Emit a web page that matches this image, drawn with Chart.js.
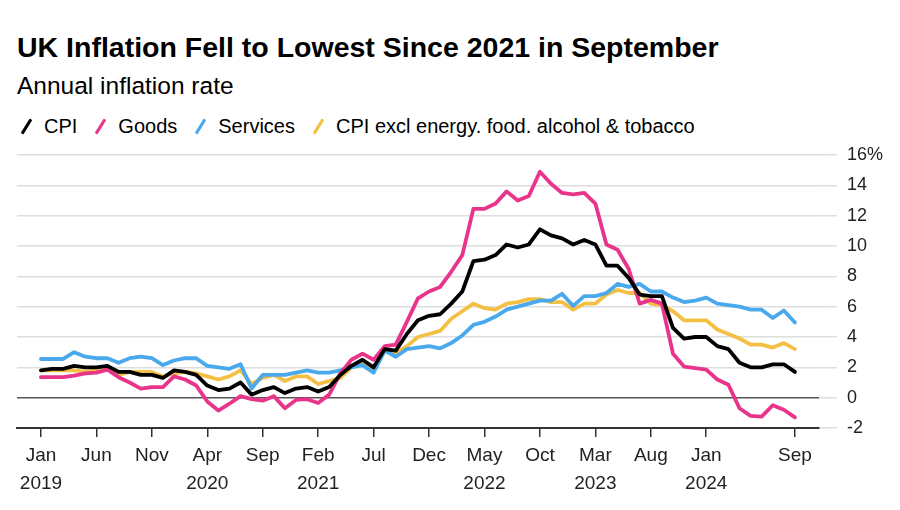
<!DOCTYPE html>
<html>
<head>
<meta charset="utf-8">
<script src="https://cdn.jsdelivr.net/npm/chart.js@4"></script>
<style>
  body { margin: 0; background: #fff; font-family: 'Liberation Sans', Arial, sans-serif; color: #000; }
  #wrap { position: relative; width: 900px; height: 510px; overflow: hidden; }
  #title { position: absolute; left: 17px; top: 33px; font-size: 28.5px; font-weight: bold; line-height: 1; white-space: nowrap; }
  #sub { position: absolute; left: 17px; top: 74px; font-size: 24.5px; line-height: 1; white-space: nowrap; }
  #legend { position: absolute; left: 17px; top: 116px; font-size: 20px; line-height: 1; display: flex; white-space: nowrap; }
  #legend .item { display: flex; align-items: center; margin-right: 14px; }
  #legend .mark { display: inline-block; width: 3px; height: 17px; margin: 0 16px 0 8px; transform: rotate(32deg); border-radius: 1px; }
  canvas { position: absolute; left: 0; top: 0; }
</style>
</head>
<body>
<div id="wrap">
  <div id="title">UK Inflation Fell to Lowest Since 2021 in September</div>
  <div id="sub">Annual inflation rate</div>
  <div id="legend"></div>
  <canvas id="chart" width="900" height="510"></canvas>
</div>
<script>
// Monthly, Jan 2019 .. Sep 2024 (69 months)
const cpi = [1.8, 1.9, 1.9, 2.1, 2.0, 2.0, 2.1, 1.7, 1.7, 1.5, 1.5, 1.3,
  1.8, 1.7, 1.5, 0.8, 0.5, 0.6, 1.0, 0.2, 0.5, 0.7, 0.3, 0.6,
  0.7, 0.4, 0.7, 1.5, 2.1, 2.5, 2.0, 3.2, 3.1, 4.2, 5.1, 5.4,
  5.5, 6.2, 7.0, 9.0, 9.1, 9.4, 10.1, 9.9, 10.1, 11.1, 10.7, 10.5,
  10.1, 10.4, 10.1, 8.7, 8.7, 7.9, 6.8, 6.7, 6.7, 4.6, 3.9, 4.0,
  4.0, 3.4, 3.2, 2.3, 2.0, 2.0, 2.2, 2.2, 1.7];

const goods = [1.35, 1.35, 1.35, 1.45, 1.6, 1.65, 1.85, 1.35, 1.0, 0.6, 0.7, 0.7,
  1.4, 1.2, 0.8, -0.25, -0.85, -0.4, 0.1, -0.1, -0.2, 0.1, -0.7, -0.15,
  -0.1, -0.35, 0.2, 1.6, 2.5, 2.9, 2.5, 3.4, 3.5, 5.0, 6.55, 7.0,
  7.3, 8.3, 9.4, 12.45, 12.45, 12.8, 13.6, 13.0, 13.3, 14.9, 14.1, 13.5,
  13.4, 13.5, 12.8, 10.1, 9.75, 8.5, 6.2, 6.45, 6.2, 2.9, 2.05, 1.95,
  1.85, 1.2, 0.85, -0.7, -1.2, -1.25, -0.5, -0.8, -1.3];

const services = [2.55, 2.55, 2.55, 3.0, 2.7, 2.6, 2.6, 2.3, 2.6, 2.7, 2.6, 2.15,
  2.45, 2.6, 2.6, 2.1, 2.0, 1.9, 2.2, 0.6, 1.5, 1.5, 1.5, 1.65,
  1.8, 1.65, 1.65, 1.8, 2.0, 2.15, 1.65, 3.1, 2.7, 3.2, 3.3, 3.4,
  3.25, 3.6, 4.1, 4.8, 5.0, 5.35, 5.8, 6.0, 6.2, 6.4, 6.4, 6.85,
  6.05, 6.7, 6.7, 6.9, 7.5, 7.3, 7.5, 7.0, 7.0, 6.6, 6.3, 6.4,
  6.6, 6.2, 6.1, 6.0, 5.8, 5.8, 5.25, 5.75, 4.95];

const core = [1.8, 1.8, 1.8, 1.8, 1.7, 1.8, 1.9, 1.5, 1.7, 1.7, 1.7, 1.4,
  1.6, 1.7, 1.6, 1.4, 1.2, 1.4, 1.8, 0.9, 1.3, 1.5, 1.1, 1.4,
  1.4, 0.9, 1.1, 1.3, 2.0, 2.3, 1.8, 3.1, 2.9, 3.4, 4.0, 4.2,
  4.4, 5.2, 5.7, 6.2, 5.9, 5.8, 6.2, 6.3, 6.5, 6.5, 6.3, 6.3,
  5.8, 6.2, 6.2, 6.8, 7.1, 6.9, 6.9, 6.2, 6.1, 5.7, 5.1, 5.1,
  5.1, 4.5, 4.2, 3.9, 3.5, 3.5, 3.3, 3.6, 3.2];

// x-axis ticks (month index from Jan 2019)
const tickPos = [0, 5, 10, 15, 20, 25, 30, 35, 40, 45, 50, 55, 60, 68];
const tickMonths = ['Jan', 'Jun', 'Nov', 'Apr', 'Sep', 'Feb', 'Jul', 'Dec', 'May', 'Oct', 'Mar', 'Aug', 'Jan', 'Sep'];
const tickYears = ['2019', '', '', '2020', '', '2021', '', '', '2022', '', '2023', '', '2024', ''];

const series = [
  { label: 'CPI', data: cpi, color: '#000000' },
  { label: 'Goods', data: goods, color: '#e8358b' },
  { label: 'Services', data: services, color: '#4aa8ec' },
  { label: 'CPI excl energy. food. alcohol & tobacco', data: core, color: '#f3c043' }
];

// HTML legend with slash markers
const legend = document.getElementById('legend');
series.forEach(s => {
  const item = document.createElement('div');
  item.className = 'item';
  const mark = document.createElement('span');
  mark.className = 'mark';
  mark.style.background = s.color;
  const txt = document.createElement('span');
  txt.textContent = s.label;
  item.appendChild(mark);
  item.appendChild(txt);
  legend.appendChild(item);
});

Chart.defaults.font.family = "'Liberation Sans', Arial, sans-serif";
Chart.defaults.color = '#222';

new Chart(document.getElementById('chart'), {
  type: 'line',
  data: {
    datasets: series.map(s => ({
      label: s.label,
      data: s.data.map((v, i) => ({ x: i, y: v })),
      borderColor: s.color,
      backgroundColor: s.color,
      borderWidth: 3.8,
      pointRadius: 0,
      tension: 0,
      borderJoinStyle: 'round',
      borderCapStyle: 'round'
    }))
  },
  options: {
    responsive: false,
    animation: false,
    layout: { padding: { left: 17, top: 155, right: 0, bottom: 0 } },
    plugins: { legend: { display: false }, tooltip: { enabled: false } },
    scales: {
      x: {
        type: 'linear',
        min: -2.16,
        max: 70.17,
        afterBuildTicks: s => { s.ticks = tickPos.map(v => ({ value: v })); },
        afterFit: s => { s.height = 82; },
        grid: { drawOnChartArea: false, tickLength: 9, color: '#333', lineWidth: 1.5 },
        border: { color: '#333', width: 2 },
        ticks: {
          autoSkip: false,
          maxRotation: 0,
          padding: 5,
          color: '#222',
          font: { size: 19, lineHeight: 1.47 },
          callback: v => {
            const k = tickPos.indexOf(v);
            return tickYears[k] ? [tickMonths[k], tickYears[k]] : tickMonths[k];
          }
        }
      },
      y: {
        position: 'right',
        min: -2,
        max: 16,
        afterFit: s => { s.width = 81; },
        border: { display: false },
        grid: {
          color: c => c.tick.value === 0 ? '#555' : (c.tick.value === -2 ? '#333' : '#dedede'),
          lineWidth: 1.5,
          tickLength: 18,
          tickColor: '#dedede'
        },
        ticks: {
          stepSize: 2,
          padding: 10,
          color: '#222',
          font: { size: 18 },
          callback: v => v === 16 ? '16%' : String(v)
        }
      }
    }
  }
});
</script>
</body>
</html>
